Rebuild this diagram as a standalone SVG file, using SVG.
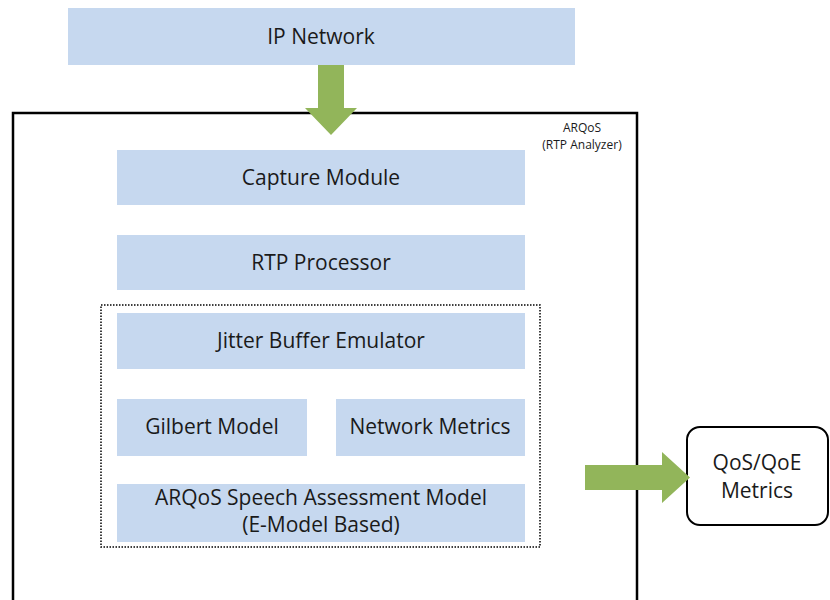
<svg xmlns="http://www.w3.org/2000/svg" width="830" height="600" viewBox="0 0 830 600">
<style>
.blk{fill:#c6d8ef}
.t{font-family:"Open Sans","Liberation Sans",sans-serif;font-size:21px;fill:#1a1a1a;text-anchor:middle}
.s{font-family:"Open Sans","Liberation Sans",sans-serif;font-size:12px;fill:#1a1a1a;text-anchor:middle}
.arr{fill:#92b55a}
</style>
<rect width="830" height="600" fill="#fff"/>
<g id="arqos">
<rect x="13" y="113" width="624" height="500" fill="none" stroke="#000" stroke-width="2.5"/>
<text class="s" x="582" y="132">ARQoS</text>
<text class="s" x="582" y="149">(RTP Analyzer)</text>
</g>
<g id="group">
<rect x="101" y="305" width="439" height="242" fill="none" stroke="#000" stroke-width="1.5" stroke-dasharray="1.5 1.5"/>
</g>
<g id="ip-network">
<rect class="blk" x="68" y="8" width="507" height="57"/>
<text class="t" x="321" y="44">IP Network</text>
</g>
<g id="capture">
<rect class="blk" x="117" y="150" width="408" height="55"/>
<text class="t" x="321" y="185">Capture Module</text>
</g>
<g id="rtp">
<rect class="blk" x="117" y="235" width="408" height="55"/>
<text class="t" x="321" y="270">RTP Processor</text>
</g>
<g id="jitter">
<rect class="blk" x="117" y="313" width="408" height="56"/>
<text class="t" x="321" y="348">Jitter Buffer Emulator</text>
</g>
<g id="gilbert">
<rect class="blk" x="117" y="399" width="190" height="57"/>
<text class="t" x="212" y="434">Gilbert Model</text>
</g>
<g id="netmetrics">
<rect class="blk" x="336" y="399" width="189" height="57"/>
<text class="t" x="430" y="434">Network Metrics</text>
</g>
<g id="speech">
<rect class="blk" x="117" y="484" width="408" height="58"/>
<text class="t" x="321" y="505">ARQoS Speech Assessment Model</text>
<text class="t" x="321" y="532">(E-Model Based)</text>
</g>
<g id="qos">
<rect x="687" y="427" width="141" height="98" rx="13" fill="#fff" stroke="#000" stroke-width="2"/>
<text class="t" x="757" y="470">QoS/QoE</text>
<text class="t" x="757" y="498">Metrics</text>
</g>
<g id="connectors">
<polygon class="arr" points="318,65 344,65 344,108 357,108 331,135 305,108 318,108"/>
<polygon class="arr" points="585,465 662,465 662,452 690,477.5 662,503 662,490 585,490"/>
</g>
</svg>
